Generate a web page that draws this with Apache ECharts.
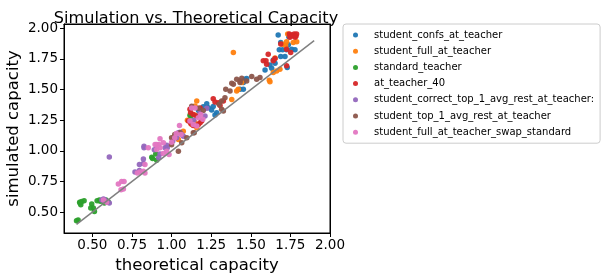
<!DOCTYPE html>
<html><head><meta charset="utf-8">
<script src="https://cdn.jsdelivr.net/npm/echarts@6/dist/echarts.min.js"></script>
<style>html,body{margin:0;padding:0;background:#fff}#c{width:606px;height:280px}</style>
</head><body><div id="c"></div>
<script>
const seriesNames = ["student_confs_at_teacher","student_full_at_teacher","standard_teacher","at_teacher_40","student_correct_top_1_avg_rest_at_teacher:","student_top_1_avg_rest_at_teacher","student_full_at_teacher_swap_standard"];
const colors = ["#1f77b4","#ff7f0e","#2ca02c","#d62728","#9467bd","#8c564b","#e377c2"];
const xTicks = [0.5,0.75,1.0,1.25,1.5,1.75,2.0];
const yTicks = [0.5,0.75,1.0,1.25,1.5,1.75,2.0];
const refLine = [[0.4,0.4],[1.9,1.9]];

const blue = [[1.673,1.945],[1.689,1.885],[1.68,1.825],[1.701,1.825],[1.726,1.825],[1.737,1.866],[1.758,1.83],[1.779,1.825],[1.689,1.77],[1.716,1.77],[1.642,1.742],[1.621,1.7],[1.653,1.715],[1.59,1.66],[1.632,1.675],[1.73,1.68],[1.453,1.557],[1.463,1.584],[1.474,1.59],[1.453,1.502],[1.432,1.502],[1.222,1.385],[1.232,1.352],[1.263,1.361],[1.253,1.333],[1.285,1.311],[1.274,1.292],[1.2,1.36],[1.17,1.33],[1.74,1.93]];
const orange = [[1.733,1.953],[1.768,1.885],[1.726,1.89],[1.79,1.89],[1.653,1.757],[1.684,1.666],[1.663,1.652],[1.642,1.639],[1.617,1.576],[1.39,1.803],[1.411,1.488],[1.421,1.502],[1.38,1.42],[1.443,1.557],[1.159,1.407],[1.148,1.366],[1.127,1.216],[1.159,1.189],[1.148,1.23],[1.074,1.16],[1.043,1.093],[1.621,1.563],[1.72,1.86],[1.15,1.29],[1.1,1.25],[1.7,1.87]];
const green = [[0.41,0.437],[0.40,0.43],[0.422,0.574],[0.433,0.587],[0.448,0.593],[0.427,0.56],[0.496,0.566],[0.506,0.533],[0.49,0.533],[0.513,0.505],[0.53,0.593],[0.544,0.6],[0.566,0.593],[0.576,0.574],[0.586,0.6],[0.875,0.947],[0.88,0.937],[0.9,0.975],[0.906,0.923],[1.127,1.352],[1.116,1.29],[1.121,1.284],[0.42,0.58],[0.55,0.59],[0.6,0.585]];
const red = [[1.743,1.953],[1.758,1.945],[1.774,1.953],[1.789,1.953],[1.747,1.926],[1.779,1.926],[1.765,1.94],[1.785,1.935],[1.689,1.871],[1.726,1.83],[1.752,1.803],[1.61,1.789],[1.579,1.735],[1.596,1.735],[1.6,1.707],[1.642,1.735],[1.653,1.754],[1.726,1.694],[1.263,1.426],[1.274,1.398],[1.295,1.393],[1.327,1.407],[1.306,1.371],[1.116,1.339],[1.18,1.35],[1.137,1.297],[1.159,1.284],[1.18,1.23],[1.19,1.243],[1.106,1.243],[1.121,1.224],[1.137,1.207],[1.169,1.216],[1.12,1.31]];
const purple = [[0.56,0.6],[0.57,0.607],[0.58,0.6],[0.607,0.574],[0.607,0.951],[0.769,0.828],[0.797,0.839],[0.797,0.888],[0.822,0.897],[0.822,0.934],[0.826,1.025],[0.826,1.037],[0.891,1.01],[0.927,0.975],[0.919,0.943],[0.973,1.025],[0.969,1.046],[1.007,1.079],[1.032,1.107],[1.043,1.148],[1.064,1.134],[1.053,1.152],[1.074,1.12],[0.906,1.038],[0.959,1.025],[1.222,1.347],[1.18,1.311],[1.211,1.284],[1.14,1.25]];
const brown = [[1.0,1.107],[1.02,1.134],[1.043,0.997],[1.064,1.066],[1.096,1.107],[1.143,1.148],[1.558,1.598],[1.537,1.584],[1.506,1.607],[1.474,1.571],[1.443,1.593],[1.432,1.571],[1.432,1.557],[1.411,1.584],[1.39,1.543],[1.38,1.551],[1.342,1.502],[1.369,1.488],[1.337,1.434],[1.316,1.407],[1.316,1.339],[1.327,1.325],[1.137,1.148],[1.169,1.347],[1.2,1.33],[1.127,1.363],[1.053,1.148],[1.3,1.38],[1.0,1.05]];
const pink = [[0.664,0.73],[0.685,0.751],[0.7,0.751],[0.681,0.683],[0.696,0.689],[0.784,0.82],[0.801,0.828],[0.822,0.833],[0.832,0.82],[0.832,0.888],[0.853,1.025],[0.906,1.052],[0.92,1.052],[0.927,1.098],[0.969,0.997],[0.984,0.97],[0.948,0.978],[1.0,1.07],[1.02,1.107],[1.03,1.142],[1.05,1.207],[1.06,1.134],[1.148,1.35],[1.127,1.35],[1.184,1.297],[1.197,1.257],[1.169,1.271],[1.137,1.216],[1.116,1.243],[1.159,1.202],[0.896,1.052],[0.948,1.066],[0.927,1.025],[0.906,1.011],[0.57,0.6],[0.59,0.58]];
const allData = [blue, orange, green, red, purple, brown, pink];

const FONT = "DejaVu Sans";
const fmt = v => v.toFixed(2);
const chart = echarts.init(document.getElementById('c'), null, {renderer:'canvas'});
const series = allData.map((d,i)=>({
  name: seriesNames[i], type:'scatter', data:d, symbol:'circle', symbolSize:5.5,
  itemStyle:{color:colors[i], opacity:0.95}, z:2, silent:true
}));
series.push({type:'line', data:refLine, symbol:'none', lineStyle:{color:'#808080', width:1.5}, z:5, silent:true});
const spine = {show:true, onZero:false, lineStyle:{color:'#000', width:1}};
chart.setOption({
  animation:false,
  title:{text:'Simulation vs. Theoretical Capacity', left:191, top:6, textAlign:'center',
    textStyle:{fontFamily:FONT, fontSize:16.1, fontWeight:'normal', color:'#000'}},
  legend:{data:seriesNames.map((n,i)=>({name:n, icon:'circle', itemStyle:{color:colors[i]}})),
    orient:'vertical', left:343, top:24, padding:[5,6,5,10], itemGap:4.2, itemWidth:5, itemHeight:5,
    textStyle:{fontFamily:FONT, fontSize:10, color:'#000', padding:[0,0,0,11], lineHeight:12},
    borderColor:'#cccccc', borderWidth:1, borderRadius:3, selectedMode:false},
  grid:{left:64, right:276, top:24, bottom:47, show:true, borderColor:'#000', borderWidth:1, backgroundColor:'transparent', z:10},
  xAxis:[{type:'value', min:0.321, max:2.0, name:'theoretical capacity', nameLocation:'middle', nameGap:23,
    nameTextStyle:{fontFamily:FONT, fontSize:16.5, color:'#000'},
    axisLine:spine,
    axisTick:{show:true, length:4, customValues:xTicks, lineStyle:{color:'#000'}},
    axisLabel:{customValues:xTicks, formatter:fmt, fontFamily:FONT, fontSize:13.5, color:'#000', margin:5},
    splitLine:{show:false}},
    {type:'value', position:'top', min:0.321, max:2.0, axisLine:spine, axisTick:{show:false}, axisLabel:{show:false}, splitLine:{show:false}}],
  yAxis:[{type:'value', min:0.33, max:2.035, name:'simulated capacity', nameLocation:'middle', nameGap:42,
    nameTextStyle:{fontFamily:FONT, fontSize:16.5, color:'#000'},
    axisLine:spine,
    axisTick:{show:true, length:4, customValues:yTicks, lineStyle:{color:'#000'}},
    axisLabel:{customValues:yTicks, formatter:fmt, fontFamily:FONT, fontSize:13.5, color:'#000', margin:6},
    splitLine:{show:false}},
    {type:'value', position:'right', min:0.33, max:2.035, axisLine:spine, axisTick:{show:false}, axisLabel:{show:false}, splitLine:{show:false}}],
  series:series
});
</script></body></html>
